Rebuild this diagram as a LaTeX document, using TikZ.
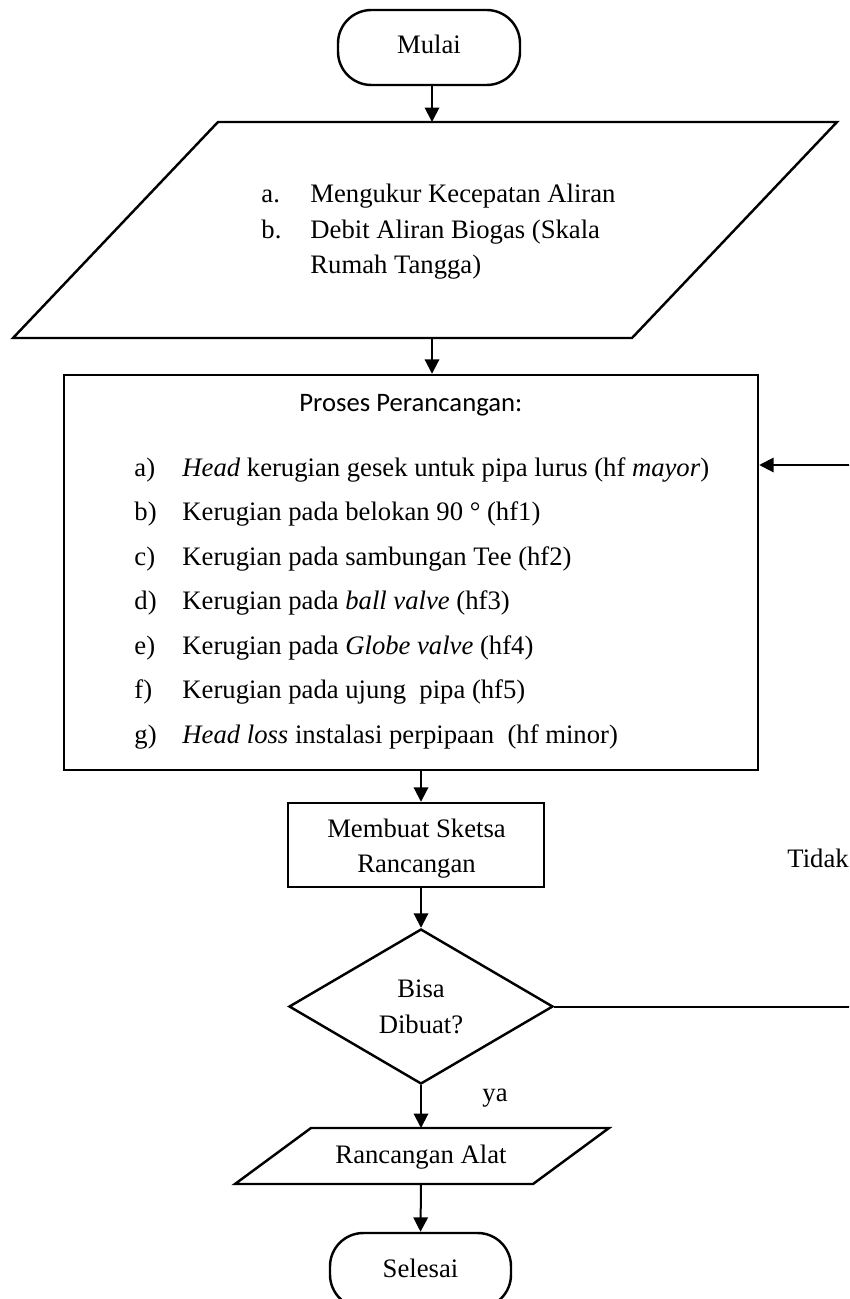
\documentclass[tikz,border=0pt]{standalone}
\usepackage{fontspec}
\setmainfont{Liberation Serif}
\newfontfamily\calibrifont{Carlito}
\usetikzlibrary{arrows.meta,shapes.geometric}
\newdimen\pu
\pu=0.45pt
\begin{document}
\begin{tikzpicture}[x=0.45pt,y=-0.45pt,
  shapeline/.style={draw,line width=1.1pt},
  term/.style={shapeline,rounded corners=15pt,inner sep=0pt,font=\fontsize{12}{14}\selectfont},
  flow/.style={line width=0.9pt,-{Triangle[length=6.5pt,width=6.5pt]}},
  txt/.style={inner sep=0pt,anchor=base west,font=\fontsize{12}{14}\selectfont},
  ctxt/.style={inner sep=0pt,anchor=base,font=\fontsize{12}{14}\selectfont},
]
\useasboundingbox (0,0) rectangle (849,1299);
\clip (0,0) rectangle (849,1299);

% Start
\node[term,minimum width=182\pu,minimum height=75\pu] (start) at (429,47.5) {};
\node[ctxt] (startT) at (429,54) {Mulai};

% Input parallelogram
\draw[line width=1.1pt] (218,122) -- (837,122) -- (632,338) -- (13,338) -- cycle;
\coordinate (inTop) at (432,122);
\coordinate (inBot) at (432,338);
\node[txt] (inA) at (261,203) {a.};
\node[txt] (inAT) at (310,203) {Mengukur Kecepatan Aliran};
\node[txt] (inB) at (261,238) {b.};
\node[txt] (inBT) at (310,238) {Debit Aliran Biogas (Skala};
\node[txt] (inBT2) at (310,273) {Rumah Tangga)};

% Process box
\node[shapeline,minimum width=694\pu,minimum height=395\pu,inner sep=0pt] (proc) at (411,572.5) {};
\node[txt,font=\calibrifont\fontsize{12}{14}\selectfont] (procT) at (299,411) {Proses Perancangan:};
\node[txt] (la) at (134,476) {a)};
\node[txt] (ta) at (182,476) {\textit{Head} kerugian gesek untuk pipa lurus (hf \textit{mayor})};
\node[txt] (lb) at (134,520.5) {b)};
\node[txt] (tb) at (182,520.5) {Kerugian pada belokan 90 ° (hf1)};
\node[txt] (lc) at (134,565) {c)};
\node[txt] (tc) at (182,565) {Kerugian pada sambungan Tee (hf2)};
\node[txt] (ld) at (134,609.5) {d)};
\node[txt] (td) at (182,609.5) {Kerugian pada \textit{ball valve} (hf3)};
\node[txt] (le) at (134,654) {e)};
\node[txt] (te) at (182,654) {Kerugian pada \textit{Globe valve} (hf4)};
\node[txt] (lf) at (134,698.5) {f)};
\node[txt] (tf) at (182,698.5) {Kerugian pada ujung\ \ pipa (hf5)};
\node[txt] (lg) at (134,743) {g)};
\node[txt] (tg) at (182,743) {\textit{Head loss} instalasi perpipaan\ \ (hf minor)};

% Sketch box
\node[shapeline,minimum width=256\pu,minimum height=84\pu,inner sep=0pt] (sk) at (416,845) {};
\node[ctxt] (skT1) at (416.5,837) {Membuat Sketsa};
\node[ctxt] (skT2) at (416.5,872) {Rancangan};

% Decision
\node[draw,diamond,line width=1.1pt,minimum width=264\pu,minimum height=155\pu,inner sep=0pt] (dec) at (421,1006.5) {};
\node[ctxt] (decT1) at (421,997) {Bisa};
\node[ctxt] (decT2) at (421,1033) {Dibuat?};
\node[txt] (tidak) at (787,867) {Tidak};
\node[txt] (ya) at (482,1101) {ya};

% Output parallelogram
\draw[line width=1.1pt] (311,1128) -- (609,1128) -- (533,1184) -- (235,1184) -- cycle;
\coordinate (outTop) at (421,1128);
\coordinate (outBot) at (421,1184);
\node[ctxt] (outT) at (421,1163) {Rancangan Alat};

% End
\node[term,minimum width=181\pu,minimum height=75\pu] (stop) at (420.5,1270.5) {};
\node[ctxt] (stopT) at (420.5,1277) {Selesai};

% Connectors
\draw[flow] (inTop |- start.south) -- (inTop);
\draw[flow] (inBot) -- (inBot |- proc.north);
\draw[flow] (proc.south -| dec.north) -- (sk.north -| dec.north);
\draw[flow] (sk.south -| dec.north) -- (dec.north);
\draw[flow] (dec.south) -- (outTop);
\draw[flow] (outBot) -- (stop.north);
\coordinate (r1) at (853,1006.5);
\coordinate (r2) at (853,465);
\draw[flow] (dec.east) -- (r1) -- (r2) -- (proc.east |- r2);
\end{tikzpicture}
\end{document}
